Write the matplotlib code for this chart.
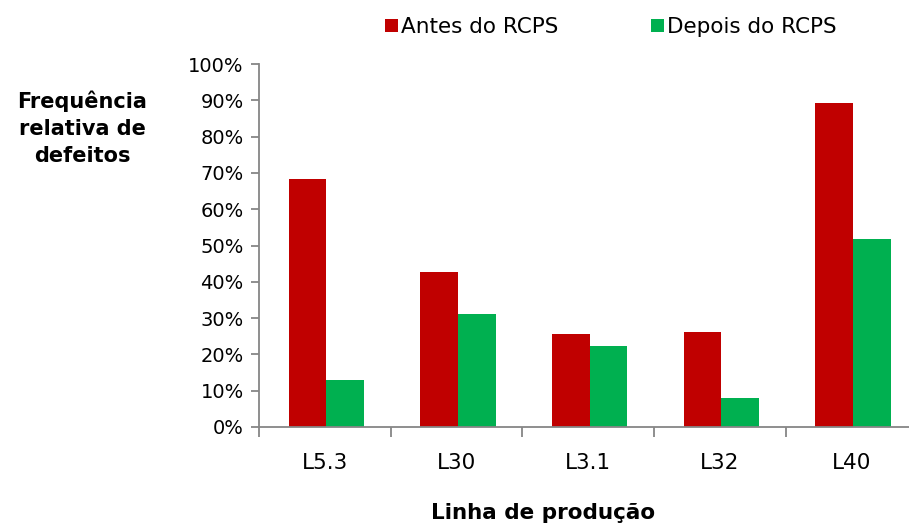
import numpy as np
import matplotlib.pyplot as plt
from matplotlib.ticker import PercentFormatter

# Data (fractions)
categories = ['L5.3', 'L30', 'L3.1', 'L32', 'L40']
antes = [0.683, 0.426, 0.255, 0.261, 0.892]
depois = [0.129, 0.310, 0.222, 0.079, 0.518]
yticks = np.arange(0, 1.01, 0.1)

red = '#C00000'
green = '#00B050'
axis_gray = '#868686'

fig = plt.figure(figsize=(9.09, 5.25), dpi=100)
ax = fig.add_axes([259 / 909, 98 / 525, 658.5 / 909, 363 / 525])

x = np.arange(len(categories))
w = 0.286
ax.bar(x - w / 2 + 0.01, antes, width=w, color=red, label='Antes do RCPS')
ax.bar(x + w / 2 + 0.01, depois, width=w, color=green, label='Depois do RCPS')

ax.set_xlim(-0.5, len(categories) - 0.5)
ax.set_ylim(0, 1.0)

# Axes styling (Excel-like)
for side in ['top', 'right']:
    ax.spines[side].set_visible(False)
for side in ['left', 'bottom']:
    ax.spines[side].set_color(axis_gray)
    ax.spines[side].set_linewidth(1.3)

ax.set_yticks(yticks)
ax.yaxis.set_major_formatter(PercentFormatter(1.0, decimals=0))
ax.tick_params(axis='y', direction='out', length=6, width=1.3, color=axis_gray,
               labelsize=14, pad=5)

# category boundary ticks on x axis, labels at centers
ax.set_xticks(np.arange(-0.5, len(categories), 1.0))
ax.set_xticklabels([])
ax.set_xticks(x, minor=True)
ax.set_xticklabels(categories, minor=True)
ax.tick_params(axis='x', which='major', direction='out', length=7, width=1.3, color=axis_gray)
ax.tick_params(axis='x', which='minor', length=0, labelsize=15.5, pad=19)

fig.text(82 / 909, 1 - 128 / 525, 'Frequência\nrelativa de\ndefeitos', ha='center', va='center',
         fontsize=15, fontweight='bold', linespacing=1.45)
fig.text(543 / 909, 1 - 513 / 525, 'Linha de produção', ha='center', va='center',
         fontsize=15.5, fontweight='bold')

fig.legend(loc='center left', bbox_to_anchor=(385 / 909, 1 - 27 / 525), ncol=2, frameon=False,
           fontsize=15.5, handlelength=0.6, handleheight=0.6, handletextpad=0.15,
           columnspacing=4.3, borderaxespad=0, borderpad=0)

fig.savefig('out.png', dpi=100)
